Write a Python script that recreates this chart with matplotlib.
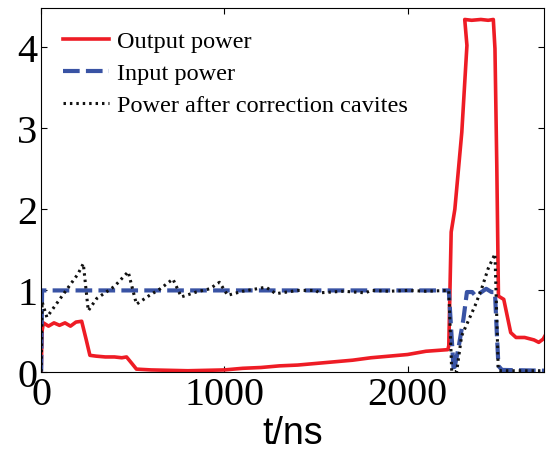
import numpy as np
import matplotlib
matplotlib.use('Agg')
import matplotlib.pyplot as plt

# output power (red)
t_out = [0, 5, 12, 40, 70, 100, 130, 160, 190, 221, 245, 266, 300, 350, 400, 440, 466, 495, 520,
         600, 800, 1000, 1100, 1200, 1300, 1400, 1500, 1600, 1700, 1800, 1900, 2000, 2100, 2220,
         2225, 2238, 2258, 2296, 2324, 2312, 2350, 2400, 2440, 2468, 2477, 2487, 2496, 2525,
         2563, 2592, 2639, 2690, 2716, 2740, 2760]
p_out = [0.0, 0.5, 0.6, 0.56, 0.6, 0.57, 0.6, 0.56, 0.61, 0.62, 0.4, 0.2, 0.19, 0.18, 0.18, 0.17, 0.18, 0.1, 0.03,
         0.02, 0.01, 0.02, 0.04, 0.05, 0.07, 0.08, 0.1, 0.12, 0.14, 0.17, 0.19, 0.21, 0.25, 0.27,
         0.32, 1.72, 2.0, 2.95, 4.02, 4.34, 4.33, 4.34, 4.33, 4.34, 3.98, 2.54, 0.93, 0.89,
         0.48, 0.42, 0.42, 0.39, 0.36, 0.4, 0.48]

# input power (blue)
t_in = [0, 5, 2225, 2252, 2277, 2305, 2324, 2353, 2372, 2429, 2458, 2477, 2487, 2496, 2515, 2760]
p_in = [0.0, 1.0, 1.0, 0.0, 0.28, 0.65, 0.98, 0.98, 0.93, 1.02, 0.98, 0.98, 0.48, 0.07, 0.02, 0.01]

# power after correction cavities (black)
t_cor = [0, 5, 31, 120, 200, 230, 257, 303, 400, 475, 520, 592, 650, 719, 765, 846, 920, 973, 1018,
         1100, 1227, 1281, 1400, 1500, 1516, 1650, 1770, 1800, 1900, 2000, 2100, 2225, 2241,
         2268, 2295, 2368, 2404, 2440, 2477, 2495, 2510, 2760]
p_cor = [0.0, 0.86, 0.67, 0.95, 1.2, 1.33, 0.75, 0.9, 1.05, 1.23, 0.83, 0.94, 1.02, 1.14, 0.92, 0.98, 1.02, 1.1, 0.94,
         0.99, 1.04, 0.96, 1.0, 1.0, 0.97, 0.99, 0.97, 1.0, 0.99, 1.0, 0.99, 1.0, 0.0,
         0.0, 0.44, 0.81, 1.02, 1.27, 1.45, 0.02, 0.01, 0.01]

plt.figure(figsize=(5.49, 4.56), dpi=100)
ax = plt.axes([0.075, 0.183, 0.916, 0.797])

ax.plot(t_out, p_out, color='#ee1c25', lw=2.6, label='Output power')
ax.plot(t_in, p_in, color='#3953a4', lw=3, ls=(0, (4, 1.5)), label='Input power')
ax.plot(t_cor, p_cor, color='#111111', lw=2.2, ls=(0, (0.8, 1.3)), label='Power after correction cavites')

ax.set_xlim(0, 2745)
ax.set_ylim(0, 4.48)
ax.set_xticks([0, 1000, 2000])
ax.set_yticks([0, 1, 2, 3, 4])
ax.tick_params(direction='in', top=True, right=True, length=4, width=0.8, labelsize=29, pad=3)
for lab in ax.get_xticklabels() + ax.get_yticklabels():
    lab.set_family('Liberation Serif')
ax.set_xlabel('t/ns', fontsize=27, family='Liberation Sans', labelpad=2)

leg = ax.legend(loc='upper left', frameon=False, prop={'family': 'Liberation Serif', 'size': 17.5},
                handlelength=1.9, handletextpad=0.3, labelspacing=0.42, borderaxespad=0.5)

plt.savefig('out.png', dpi=100)
